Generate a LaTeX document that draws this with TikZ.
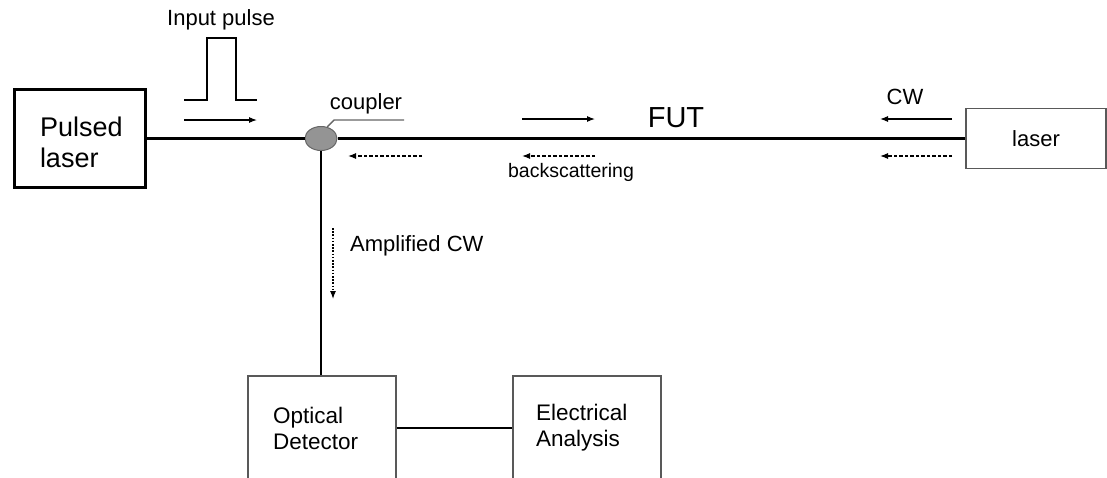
\documentclass[tikz,border=0pt]{standalone}
\usepackage{fontspec}
\setmainfont{Liberation Sans}
\usetikzlibrary{shapes.geometric,arrows.meta}
\begin{document}
\begin{tikzpicture}[x=1pt,y=-1pt,
  fiber/.style={line width=2.8pt},
  thinbox/.style={draw=black!65, line width=1.1pt, inner ysep=0pt, align=left},
  sig/.style={-{Latex[length=8pt,width=6pt]}, line width=1.1pt},
  dsig/.style={sig, dash pattern=on 3.5pt off 2pt},
  dotsig/.style={sig, dash pattern=on 1.6pt off 1.6pt},
  lbl/.style={inner sep=0pt, font=\fontsize{22}{26}\selectfont},
]
\useasboundingbox (0,0) rectangle (1107,477);
\clip (0,0) rectangle (1107,477);

% boxes
\node[draw, line width=2.8pt, minimum height=98pt, text width=80pt, inner xsep=25.5pt, inner ysep=0pt,
      align=left, font=\fontsize{27}{31}\selectfont] (pl) at (80,138.5) {\rule{0pt}{28pt}Pulsed\\laser};
\node[thinbox, minimum height=60pt, text width=140pt, inner xsep=0pt, align=center,
      font=\fontsize{22}{26}\selectfont] (laser) at (1036,138.5) {laser};
\node[thinbox, minimum height=104pt, text width=98pt, inner xsep=25pt,
      font=\fontsize{22.5}{26}\selectfont] (od) at (322,428) {Optical\\Detector};
\node[thinbox, minimum height=104pt, text width=102pt, inner xsep=23pt,
      font=\fontsize{22.5}{26}\selectfont] (ea) at (587,428) {Electrical\\Analysis};

% coupler
\node[ellipse, draw=black!60, fill=black!42, line width=1pt, minimum width=32pt, minimum height=24pt, inner sep=0pt] (coupler) at (321,138.5) {};

% fibers
\draw[fiber] (pl.east) -- (coupler.west);
\draw[fiber] (coupler.east) -- (laser.west);
\draw[fiber] (coupler.south) -- (coupler.south |- od.north);
\draw[line width=2.4pt] (od.east) -- (ea.west);

% coupler label
\coordinate (cle) at (404,120);
\draw[black!60, line width=1.4pt] (coupler.62) -- (334,120) -- (cle);
\node[lbl] (tcoupler) at (366,104) {coupler};

% input pulse
\coordinate (p0) at (184,100);
\coordinate (p5) at (257,100);
\draw[line width=2.4pt] (p0) -- (207,100) -- (207,38) -- (236,38) -- (236,100) -- (p5);
\node[lbl] (tinput) at (221,20) {Input pulse};

% signal arrows
\coordinate (a1s) at (184,120); \coordinate (a1e) at (257,120);
\draw[sig] (a1s) -- (a1e);
\coordinate (a2s) at (422,156); \coordinate (a2e) at (348,156);
\draw[dsig] (a2s) -- (a2e);
\coordinate (a3s) at (522,119); \coordinate (a3e) at (595,119);
\draw[sig] (a3s) -- (a3e);
\coordinate (a4s) at (595,156); \coordinate (a4e) at (522,156);
\draw[dsig] (a4s) -- (a4e);
\coordinate (a5s) at (952,119); \coordinate (a5e) at (880,119);
\draw[sig] (a5s) -- (a5e);
\coordinate (a6s) at (952,156); \coordinate (a6e) at (880,156);
\draw[dsig] (a6s) -- (a6e);
\coordinate (a7s) at (333,228); \coordinate (a7e) at (333,299);
\draw[dotsig] (a7s) -- (a7e);

% labels
\node[inner sep=0pt, font=\fontsize{29}{32}\selectfont] (tfut) at (676,118) {FUT};
\node[inner sep=0pt, font=\fontsize{19.5}{22}\selectfont] (tback) at (571,172) {backscattering};
\node[lbl, anchor=west] (tamp) at (350,246) {Amplified CW};
\node[lbl] (tcw) at (905,97) {CW};
\end{tikzpicture}
\end{document}
